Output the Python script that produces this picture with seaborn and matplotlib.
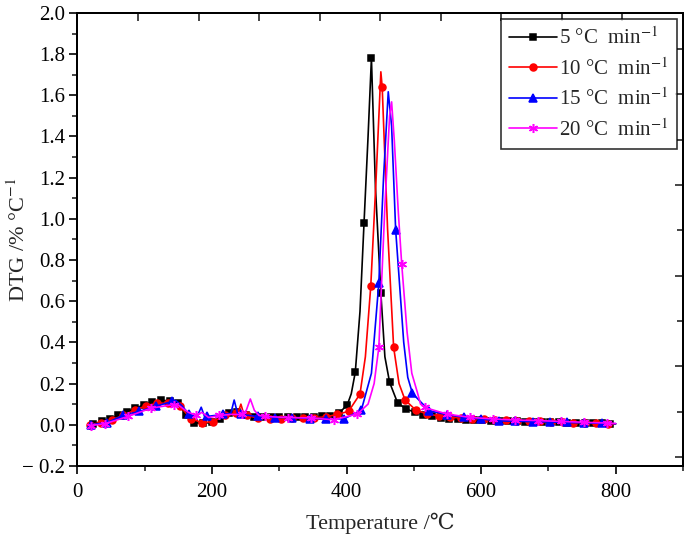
import matplotlib
matplotlib.use('Agg')
import matplotlib.pyplot as plt
from matplotlib.lines import Line2D
from matplotlib.ticker import MultipleLocator, FixedLocator, FuncFormatter
import seaborn as sns

# DTG: temperaturas (°C) dos marcadores e valores (%/°C)
# 5 °C/min
t5 = [23, 36, 48, 61, 74, 86, 99, 111, 124, 137, 149, 162, 174, 187, 200, 212, 225, 237, 250, 263,
      275, 288, 300, 313, 326, 338, 351, 363, 376, 389, 401, 413, 426, 437, 451, 464, 476, 489, 502, 514,
      527, 540, 552, 565, 577, 590, 602, 615, 628, 640, 653, 665, 678, 691, 703, 716, 728, 741, 754, 766,
      779, 791]
d5 = [0.003, 0.016, 0.028, 0.045, 0.062, 0.08, 0.097, 0.11, 0.118, 0.117, 0.105, 0.045, 0.01, 0.006, 0.012, 0.03, 0.058, 0.062, 0.045, 0.038,
      0.036, 0.036, 0.037, 0.037, 0.036, 0.036, 0.038, 0.041, 0.044, 0.057, 0.096, 0.255, 0.98, 1.78, 0.64, 0.206, 0.105, 0.076, 0.06, 0.049,
      0.04, 0.034, 0.03, 0.027, 0.025, 0.023, 0.021, 0.02, 0.018, 0.017, 0.016, 0.015, 0.014, 0.013, 0.012, 0.011, 0.01, 0.009, 0.008, 0.007,
      0.006, 0.005]
# pontos extras da linha (sem marcador)
t5_ext = [20, 407, 420, 432, 443, 457, 800]
d5_ext = [0.0, 0.15, 0.55, 1.4, 1.15, 0.33, 0.004]

# 10 °C/min
t10 = [18, 35, 52, 68, 85, 102, 119, 135, 152, 169, 185, 202, 219, 236, 252, 269, 286, 302, 319, 336,
       352, 369, 386, 403, 420, 436, 453, 470, 487, 503, 520, 537, 554, 570, 587, 604, 620, 637, 654, 671,
       687, 704, 721, 737, 754, 771, 788]
d10 = [0.0, 0.01, 0.025, 0.045, 0.07, 0.092, 0.105, 0.104, 0.09, 0.03, 0.01, 0.015, 0.045, 0.055, 0.045, 0.032, 0.03, 0.03, 0.031, 0.032,
       0.034, 0.038, 0.05, 0.065, 0.149, 0.672, 1.64, 0.376, 0.12, 0.071, 0.052, 0.043, 0.037, 0.033, 0.03, 0.027, 0.024, 0.022, 0.02, 0.018,
       0.016, 0.014, 0.012, 0.01, 0.008, 0.006, 0.004]
t10_ext = [239, 243, 247, 428, 444, 451, 461, 478, 797]
d10_ext = [0.06, 0.1, 0.055, 0.33, 1.2, 1.714, 0.95, 0.2, 0.003]

# 15 °C/min
t15 = [20, 44, 68, 92, 117, 141, 166, 192, 217, 243, 268, 294, 319, 345, 370, 396, 422, 448, 473, 498,
       523, 549, 575, 600, 626, 651, 677, 702, 728, 753, 779]
d15 = [0.0, 0.01, 0.045, 0.065, 0.09, 0.113, 0.05, 0.04, 0.05, 0.05, 0.04, 0.035, 0.035, 0.03, 0.03, 0.028, 0.071, 0.688, 0.947, 0.152,
       0.068, 0.049, 0.036, 0.028, 0.019, 0.017, 0.015, 0.013, 0.011, 0.009, 0.007]
t15_ext = [146, 156, 178, 184, 189, 228, 233, 238, 437, 442, 455, 462, 467, 485, 491, 800]
d15_ext = [0.118, 0.09, 0.04, 0.085, 0.04, 0.055, 0.12, 0.055, 0.25, 0.45, 1.2, 1.617, 1.45, 0.4, 0.23, 0.005]

# 20 °C/min
t20 = [20, 41, 75, 109, 143, 177, 211, 245, 279, 313, 347, 381, 416, 448, 482, 516, 549, 583, 618, 651,
       685, 719, 753, 787]
d20 = [-0.004, 0.005, 0.04, 0.08, 0.098, 0.045, 0.045, 0.05, 0.04, 0.035, 0.033, 0.024, 0.052, 0.376, 0.78, 0.084, 0.052, 0.036, 0.028, 0.023,
       0.02, 0.016, 0.012, 0.008]
t20_ext = [150, 165, 185, 195, 228, 251, 257, 263, 270, 432, 441, 457, 464, 467, 471, 477, 490, 497, 505, 510, 800]
d20_ext = [0.095, 0.06, 0.06, 0.035, 0.05, 0.07, 0.125, 0.07, 0.045, 0.1, 0.2, 1.06, 1.5, 1.568, 1.38, 1.03, 0.45, 0.25, 0.16, 0.1, 0.006]

rotulos = ["5 °C  min$^{-1}$", "10 °C  min$^{-1}$", "15 °C  min$^{-1}$", "20 °C  min$^{-1}$"]
cores = ["black", "#ff0000", "#0000ff", "#ff00ff"]
marcadores = ["s", "o", "^", (6, 2, 0)]
tamanhos = [4.5, 5, 5.5, 6.5]


def juntar(t, d, te, de):
    # une pontos dos marcadores com os pontos extras, ordenados pela temperatura
    pares = sorted(zip(t + te, d + de))
    return [p[0] for p in pares], [p[1] for p in pares]


series = [(t5, d5, t5_ext, d5_ext), (t10, d10, t10_ext, d10_ext),
          (t15, d15, t15_ext, d15_ext), (t20, d20, t20_ext, d20_ext)]

sns.set_theme(style="ticks")
plt.rcParams['font.family'] = ['Liberation Serif', 'DejaVu Serif']
plt.rcParams['mathtext.fontset'] = 'stix'

fig = plt.figure(figsize=(6.85, 5.38), dpi=100)
ax = fig.add_axes([0.113, 0.134, 0.884, 0.842])

handles = []
for (t, d, te, de), lab, cor, mk, ms in zip(series, rotulos, cores, marcadores, tamanhos):
    tl, dl = juntar(t, d, te, de)
    sns.lineplot(x=tl, y=dl, ax=ax, color=cor, linewidth=1.2, estimator=None, sort=False)
    ax.plot(t, d, linestyle="none", marker=mk, color=cor, markersize=ms, markeredgewidth=1.1)
    handles.append(Line2D([], [], color=cor, linewidth=1.2, marker=mk,
                          markersize=ms, markeredgewidth=1.1, label=lab))

ax.set_xlim(0, 900)
ax.set_ylim(-0.2, 2.0)
ax.xaxis.set_major_locator(MultipleLocator(200))
ax.xaxis.set_minor_locator(MultipleLocator(100))
ax.yaxis.set_major_locator(MultipleLocator(0.2))
ax.yaxis.set_minor_locator(MultipleLocator(0.1))
ax.yaxis.set_major_formatter(FuncFormatter(lambda v, p: "\u2212 0.2" if v < -0.1 else f"{abs(v):.1f}" if abs(v) < 1e-9 else f"{v:.1f}"))
ax.tick_params(which="major", direction="out", length=6, width=1.2, labelsize=15, colors="black")
ax.tick_params(axis="x", which="major", pad=6)
ax.tick_params(axis="y", which="major", pad=3)
ax.tick_params(which="minor", direction="out", length=3.5, width=1.2)
for s in ax.spines.values():
    s.set_linewidth(1.4)
    s.set_color("black")

ax.set_xlabel("Temperature /\u2103", fontsize=16, labelpad=8)
ax.set_ylabel("DTG /% °C$^{-1}$", fontsize=16)
ax.yaxis.set_label_coords(-0.078, 0.5)

# eixos espelhados (topo e direita) com marcas internas
ax_top = ax.twiny()
ax_top.set_xlim(0, 1)
ax_top.xaxis.set_major_locator(FixedLocator([0.1, 0.2, 0.3, 0.4, 0.5, 0.6, 0.7, 0.8, 0.9]))
ax_top.tick_params(axis="x", direction="in", length=6, width=1.2, labeltop=False)
ax_dir = ax.twinx()
ax_dir.set_ylim(0, 1)
ax_dir.yaxis.set_major_locator(FixedLocator([0.02, 0.22, 0.42, 0.62, 0.82]))
ax_dir.yaxis.set_minor_locator(FixedLocator([0.12, 0.32, 0.52, 0.72, 0.92]))
ax_dir.tick_params(axis="y", which="major", direction="in", length=6, width=1.2, labelright=False)
ax_dir.tick_params(axis="y", which="minor", direction="in", length=4, width=1.2)
for a in (ax_top, ax_dir):
    for s in a.spines.values():
        s.set_linewidth(1.4)
        s.set_color("black")

leg = ax_dir.legend(handles=handles, loc="upper right", fontsize=15, frameon=True, fancybox=False,
                    edgecolor="black", handlelength=2.3, handletextpad=0.1, borderaxespad=0.3,
                    labelspacing=0.42, borderpad=0.4)
leg.get_frame().set_linewidth(1.2)

fig.savefig("out.png", dpi=100)
